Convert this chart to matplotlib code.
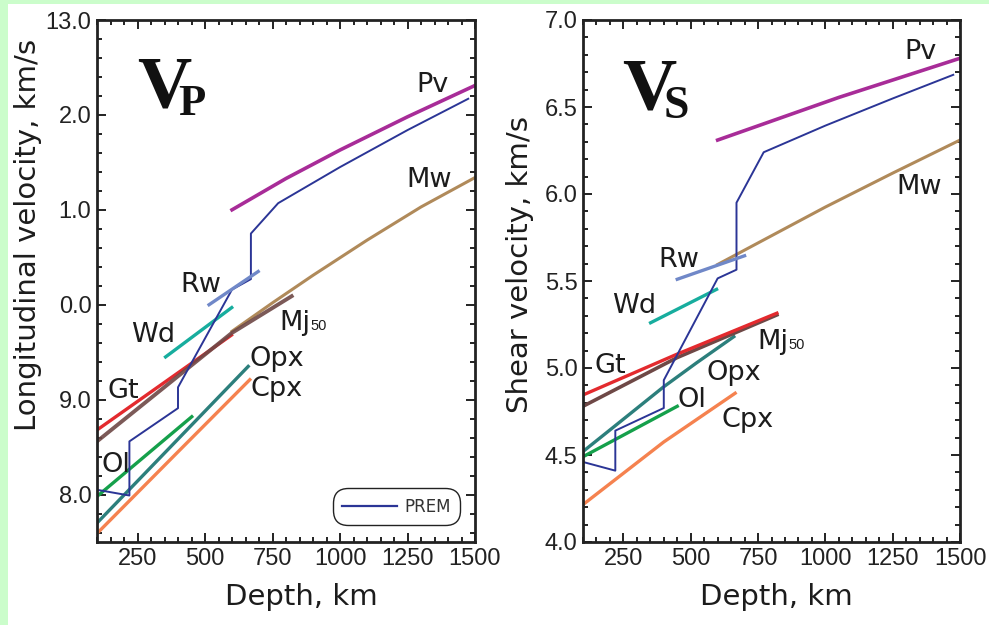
import matplotlib
matplotlib.use("Agg")
import matplotlib.pyplot as plt
from matplotlib import font_manager
from matplotlib.patches import Rectangle
from matplotlib.ticker import MultipleLocator, FixedLocator, FixedFormatter
from matplotlib.lines import Line2D

# ---- data (depth km, velocity km/s) ----
# Vp panel
prem_vp_depth = [100, 220, 220, 400, 400, 600, 670, 670, 771, 1000, 1250, 1475]
prem_vp = [8.05, 7.99, 8.56, 8.91, 9.13, 10.16, 10.27, 10.75, 11.07, 11.45, 11.84, 12.17]
pv_vp_depth = [600, 800, 1000, 1250, 1500]
pv_vp = [11.0, 11.33, 11.63, 11.98, 12.31]
mw_vp_depth = [600, 750, 900, 1100, 1300, 1500]
mw_vp = [9.72, 10.02, 10.31, 10.68, 11.03, 11.34]
rw_vp_depth = [515, 697]
rw_vp = [10.0, 10.35]
wd_vp_depth = [354, 599]
wd_vp = [9.45, 9.97]
gt_vp_depth = [100, 598]
gt_vp = [8.68, 9.68]
mj_vp_depth = [100, 598, 821]
mj_vp = [8.56, 9.70, 10.09]
opx_vp_depth = [100, 660]
opx_vp = [7.70, 9.35]
ol_vp_depth = [100, 451]
ol_vp = [7.98, 8.82]
cpx_vp_depth = [100, 400, 666]
cpx_vp = [7.59, 8.45, 9.21]

# Vs panel
prem_vs_depth = [100, 220, 220, 400, 400, 600, 670, 670, 771, 1000, 1250, 1475]
prem_vs = [4.46, 4.41, 4.64, 4.77, 4.93, 5.515, 5.565, 5.95, 6.24, 6.393, 6.549, 6.685]
pv_vs_depth = [600, 1050, 1500]
pv_vs = [6.31, 6.555, 6.78]
mw_vs_depth = [600, 800, 1000, 1250, 1500]
mw_vs = [5.595, 5.76, 5.925, 6.12, 6.31]
rw_vs_depth = [450, 700]
rw_vs = [5.51, 5.645]
wd_vs_depth = [351, 596]
wd_vs = [5.26, 5.452]
gt_vs_depth = [100, 450, 820]
gt_vs = [4.845, 5.08, 5.315]
mj_vs_depth = [100, 450, 820]
mj_vs = [4.78, 5.06, 5.305]
opx_vs_depth = [100, 213, 398, 522, 660]
opx_vs = [4.52, 4.66, 4.89, 5.03, 5.18]
ol_vs_depth = [100, 450]
ol_vs = [4.49, 4.78]
cpx_vs_depth = [100, 400, 665]
cpx_vs = [4.215, 4.575, 4.855]

vp_tick_vals = [8, 9, 10, 11, 12, 13]
vp_tick_labels = ["8.0", "9.0", "0.0", "1.0", "2.0", "13.0"]
depth_ticks = [250, 500, 750, 1000, 1250, 1500]

# ---- styling ----
names = {f.name for f in font_manager.fontManager.ttflist}
tick_font = "Liberation Sans Narrow" if "Liberation Sans Narrow" in names else "Liberation Sans"
serif_font = "Liberation Serif" if "Liberation Serif" in names else "DejaVu Serif"
txt = "#1c1c1c"
lab_size = 19.5

c_prem = "#2b3596"
c_pv = "#a82c98"
c_mw = "#b08a5a"
c_rw = "#7088c8"
c_wd = "#17ad9e"
c_gt = "#e32a2e"
c_mj = "#6e4846"
c_opx = "#2c7f7c"
c_ol = "#15a04b"
c_cpx = "#f5824f"

W, H = 989, 625
fig = plt.figure(figsize=(W / 100, H / 100), dpi=100, facecolor="#cbfdcb")
fig.patches.append(Rectangle((7.5 / W, 0), 1, (H - 3.5) / H, transform=fig.transFigure,
                             facecolor="white", edgecolor="none", zorder=-5))

ax1 = fig.add_axes([97 / W, (H - 542) / H, 378 / W, 522 / H])
ax2 = fig.add_axes([583 / W, (H - 542) / H, 377 / W, 522 / H])
ax1.set_zorder(2)
ax2.set_zorder(2)


def style_axis(ax):
    ax.set_xlim(100, 1500)
    ax.xaxis.set_major_locator(FixedLocator(depth_ticks))
    ax.xaxis.set_minor_locator(MultipleLocator(50))
    ax.tick_params(which="both", direction="in", top=True, right=True, width=1.4,
                   colors="#222222", labelsize=17, pad=4)
    ax.tick_params(which="major", length=6.5)
    ax.tick_params(which="minor", length=3.5)
    for lab in ax.get_xticklabels() + ax.get_yticklabels():
        lab.set_family(tick_font)
    for s in ax.spines.values():
        s.set_linewidth(2.0)
        s.set_color("#222222")
    ax.set_facecolor("white")


def label(ax, x, y, s):
    ax.text(x, y, s, ha="left", va="baseline", fontsize=lab_size, color=txt, family="DejaVu Sans")


def mj_label(ax, x, y):
    ax.annotate("Mj", (x, y), ha="left", va="baseline", fontsize=lab_size, color=txt)
    ax.annotate("50", (x, y), xytext=(22.5, 0), textcoords="offset points",
                ha="left", va="baseline", fontsize=10.5, color=txt, family=tick_font)


# ---- Vp panel ----
ax1.plot(mw_vp_depth, mw_vp, color=c_mw, lw=2.2)
ax1.plot(cpx_vp_depth, cpx_vp, color=c_cpx, lw=2.4)
ax1.plot(opx_vp_depth, opx_vp, color=c_opx, lw=2.4)
ax1.plot(ol_vp_depth, ol_vp, color=c_ol, lw=2.4)
ax1.plot(gt_vp_depth, gt_vp, color=c_gt, lw=2.4)
ax1.plot(mj_vp_depth, mj_vp, color=c_mj, lw=2.8, alpha=0.9)
ax1.plot(wd_vp_depth, wd_vp, color=c_wd, lw=2.4)
ax1.plot(prem_vp_depth, prem_vp, color=c_prem, lw=1.4)
ax1.plot(rw_vp_depth, rw_vp, color=c_rw, lw=2.4)
ax1.plot(pv_vp_depth, pv_vp, color=c_pv, lw=2.6)

ax1.set_ylim(7.5, 13.0)
ax1.yaxis.set_major_locator(FixedLocator(vp_tick_vals))
ax1.yaxis.set_major_formatter(FixedFormatter(vp_tick_labels))
ax1.yaxis.set_minor_locator(MultipleLocator(0.2))
style_axis(ax1)

label(ax1, 1284, 12.24, "Pv")
label(ax1, 1247, 11.24, "Mw")
label(ax1, 410, 10.13, "Rw")
label(ax1, 228, 9.61, "Wd")
mj_label(ax1, 775, 9.73)
label(ax1, 664, 9.355, "Opx")
label(ax1, 670, 9.04, "Cpx")
label(ax1, 138, 9.02, "Gt")
label(ax1, 116, 8.24, "Ol")
ax1.text(248, 12.083, "V", family=serif_font, fontweight="bold", fontsize=54,
         ha="left", va="baseline", color="#111111")
ax1.text(402, 12.0, "P", family=serif_font, fontweight="bold", fontsize=32,
         ha="left", va="baseline", color="#111111")

leg = ax1.legend(handles=[Line2D([], [], color=c_prem, lw=1.6)], labels=["PREM"],
                 loc="lower right", bbox_to_anchor=(0.96, 0.033), borderaxespad=0,
                 handlelength=3.3, handletextpad=0.45, borderpad=0.55,
                 prop={"family": "DejaVu Sans", "size": 12}, framealpha=1)
frame = leg.get_frame()
frame.set_boxstyle("round", pad=0, rounding_size=0.9)
frame.set_edgecolor("#222222")
frame.set_linewidth(1.0)
for t in leg.get_texts():
    t.set_color("#333333")

# ---- Vs panel ----
ax2.plot(mw_vs_depth, mw_vs, color=c_mw, lw=2.2)
ax2.plot(cpx_vs_depth, cpx_vs, color=c_cpx, lw=2.4)
ax2.plot(opx_vs_depth, opx_vs, color=c_opx, lw=2.4)
ax2.plot(ol_vs_depth, ol_vs, color=c_ol, lw=2.4)
ax2.plot(mj_vs_depth, mj_vs, color=c_mj, lw=2.6)
ax2.plot(gt_vs_depth, gt_vs, color=c_gt, lw=2.4)
ax2.plot(wd_vs_depth, wd_vs, color=c_wd, lw=2.4)
ax2.plot(prem_vs_depth, prem_vs, color=c_prem, lw=1.4)
ax2.plot(rw_vs_depth, rw_vs, color=c_rw, lw=2.4)
ax2.plot(pv_vs_depth, pv_vs, color=c_pv, lw=2.6)

ax2.set_ylim(4.0, 7.0)
ax2.yaxis.set_major_locator(MultipleLocator(0.5))
ax2.yaxis.set_major_formatter(matplotlib.ticker.FormatStrFormatter("%.1f"))
ax2.yaxis.set_minor_locator(MultipleLocator(0.1))
style_axis(ax2)

label(ax2, 1295, 6.774, "Pv")
label(ax2, 1262, 6.0, "Mw")
label(ax2, 380, 5.582, "Rw")
label(ax2, 208, 5.318, "Wd")
mj_label(ax2, 748, 5.107)
label(ax2, 560, 4.931, "Opx")
label(ax2, 452, 4.774, "Ol")
label(ax2, 616, 4.663, "Cpx")
label(ax2, 142, 4.97, "Gt")
ax2.text(245, 6.483, "V", family=serif_font, fontweight="bold", fontsize=54,
         ha="left", va="baseline", color="#111111")
ax2.text(399, 6.437, "S", family=serif_font, fontweight="bold", fontsize=33,
         ha="left", va="baseline", color="#111111")

# ---- axis titles ----
fig.text(28.5 / W, 1 - 235 / H, "Longitudinal velocity, km/s", rotation=90,
         ha="center", va="center", fontsize=21, color=txt)
fig.text(520 / W, 1 - 265 / H, "Shear velocity, km/s", rotation=90,
         ha="center", va="center", fontsize=21, color=txt)
fig.text(301 / W, 1 - 597 / H, "Depth, km", ha="center", va="center", fontsize=21, color=txt)
fig.text(776 / W, 1 - 597 / H, "Depth, km", ha="center", va="center", fontsize=21, color=txt)

fig.savefig("out.png", dpi=100, facecolor=fig.get_facecolor())
